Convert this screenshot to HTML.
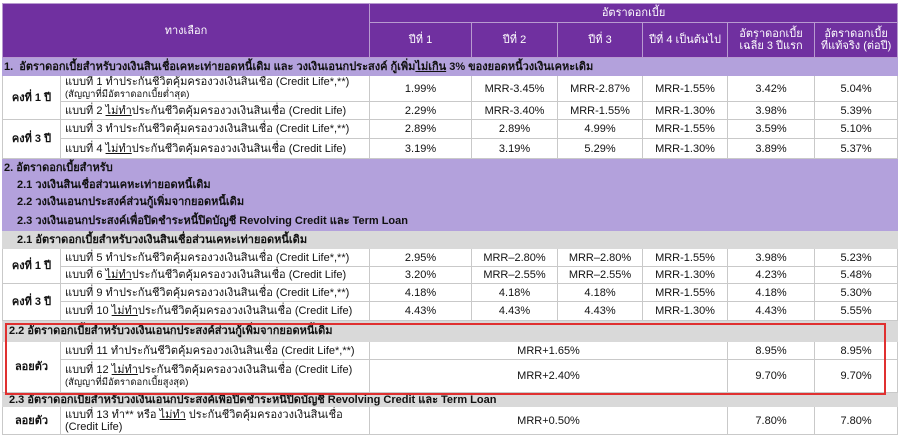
<!DOCTYPE html>
<html><head><meta charset="utf-8"><style>
body{margin:0;width:900px;height:439px;background:#fff;position:relative;overflow:hidden;font-family:Tahoma,"Liberation Sans","DejaVu Sans",sans-serif;font-size:11px;color:#111}
table{position:absolute;left:2px;top:3px;border-collapse:collapse;table-layout:fixed;width:895px}
td{border:1px solid #c9c9c9;padding:0 4px;overflow:hidden;white-space:nowrap;line-height:12px}
.h{background:#7030a0;color:#fff;text-align:center;border-color:#b89ad0}
.p{background:#b3a1dc;font-weight:bold;border-color:#b3a1dc}
.g{background:#d9d9d9;font-weight:bold;border-color:#d9d9d9}
.c{text-align:center}
.k{font-weight:bold;text-align:center}
.s{font-size:9.5px}
u{text-decoration:underline}
#box{position:absolute;left:5px;top:323px;width:881px;height:72px;border:2px solid #e03030;box-sizing:border-box}
</style></head><body>
<table>
<colgroup><col style="width:58px"><col style="width:309px"><col style="width:102px"><col style="width:86px"><col style="width:85px"><col style="width:85px"><col style="width:87px"><col style="width:83px"></colgroup>
<tr style="height:19px"><td class="h" colspan="2" rowspan="2">ทางเลือก</td><td class="h" colspan="6">อัตราดอกเบี้ย</td></tr>
<tr style="height:35px"><td class="h">ปีที่ 1</td><td class="h">ปีที่ 2</td><td class="h">ปีที่ 3</td><td class="h">ปีที่ 4 เป็นต้นไป</td><td class="h">อัตราดอกเบี้ย<br>เฉลี่ย 3 ปีแรก</td><td class="h">อัตราดอกเบี้ย<br>ที่แท้จริง (ต่อปี)</td></tr>
<tr style="height:18px"><td class="p" colspan="8" style="padding-left:1px">1.&nbsp; อัตราดอกเบี้ยสำหรับวงเงินสินเชื่อเคหะเท่ายอดหนี้เดิม และ วงเงินเอนกประสงค์ กู้เพิ่ม<u>ไม่เกิน</u> 3% ของยอดหนี้วงเงินเคหะเดิม</td></tr>
<tr style="height:25px"><td class="k" rowspan="2">คงที่ 1 ปี</td><td>แบบที่ 1 ทำประกันชีวิตคุ้มครองวงเงินสินเชื่อ (Credit Life*,**)<br><span class="s">(สัญญาที่มีอัตราดอกเบี้ยต่ำสุด)</span></td><td class="c">1.99%</td><td class="c">MRR-3.45%</td><td class="c">MRR-2.87%</td><td class="c">MRR-1.55%</td><td class="c">3.42%</td><td class="c">5.04%</td></tr>
<tr style="height:18px"><td>แบบที่ 2 <u>ไม่ทำ</u>ประกันชีวิตคุ้มครองวงเงินสินเชื่อ (Credit Life)</td><td class="c">2.29%</td><td class="c">MRR-3.40%</td><td class="c">MRR-1.55%</td><td class="c">MRR-1.30%</td><td class="c">3.98%</td><td class="c">5.39%</td></tr>
<tr style="height:19px"><td class="k" rowspan="2">คงที่ 3 ปี</td><td>แบบที่ 3 ทำประกันชีวิตคุ้มครองวงเงินสินเชื่อ (Credit Life*,**)</td><td class="c">2.89%</td><td class="c">2.89%</td><td class="c">4.99%</td><td class="c">MRR-1.55%</td><td class="c">3.59%</td><td class="c">5.10%</td></tr>
<tr style="height:20px"><td>แบบที่ 4 <u>ไม่ทำ</u>ประกันชีวิตคุ้มครองวงเงินสินเชื่อ (Credit Life)</td><td class="c">3.19%</td><td class="c">3.19%</td><td class="c">5.29%</td><td class="c">MRR-1.30%</td><td class="c">3.89%</td><td class="c">5.37%</td></tr>
<tr style="height:18px"><td class="p" colspan="8" style="padding-left:1px">2. อัตราดอกเบี้ยสำหรับ</td></tr>
<tr style="height:17px"><td class="p" colspan="8" style="padding-left:14px">2.1 วงเงินสินเชื่อส่วนเคหะเท่ายอดหนี้เดิม</td></tr>
<tr style="height:17px"><td class="p" colspan="8" style="padding-left:14px">2.2 วงเงินเอนกประสงค์ส่วนกู้เพิ่มจากยอดหนี้เดิม</td></tr>
<tr style="height:20px"><td class="p" colspan="8" style="padding-left:14px">2.3 วงเงินเอนกประสงค์เพื่อปิดชำระหนี้ปิดบัญชี Revolving Credit และ Term Loan</td></tr>
<tr style="height:18px"><td class="g" colspan="8" style="padding-left:14px">2.1 อัตราดอกเบี้ยสำหรับวงเงินสินเชื่อส่วนเคหะเท่ายอดหนี้เดิม</td></tr>
<tr style="height:18px"><td class="k" rowspan="2">คงที่ 1 ปี</td><td>แบบที่ 5 ทำประกันชีวิตคุ้มครองวงเงินสินเชื่อ (Credit Life*,**)</td><td class="c">2.95%</td><td class="c">MRR–2.80%</td><td class="c">MRR–2.80%</td><td class="c">MRR-1.55%</td><td class="c">3.98%</td><td class="c">5.23%</td></tr>
<tr style="height:17px"><td>แบบที่ 6 <u>ไม่ทำ</u>ประกันชีวิตคุ้มครองวงเงินสินเชื่อ (Credit Life)</td><td class="c">3.20%</td><td class="c">MRR–2.55%</td><td class="c">MRR–2.55%</td><td class="c">MRR-1.30%</td><td class="c">4.23%</td><td class="c">5.48%</td></tr>
<tr style="height:18px"><td class="k" rowspan="2">คงที่ 3 ปี</td><td>แบบที่ 9 ทำประกันชีวิตคุ้มครองวงเงินสินเชื่อ (Credit Life*,**)</td><td class="c">4.18%</td><td class="c">4.18%</td><td class="c">4.18%</td><td class="c">MRR-1.55%</td><td class="c">4.18%</td><td class="c">5.30%</td></tr>
<tr style="height:19px"><td>แบบที่ 10 <u>ไม่ทำ</u>ประกันชีวิตคุ้มครองวงเงินสินเชื่อ (Credit Life)</td><td class="c">4.43%</td><td class="c">4.43%</td><td class="c">4.43%</td><td class="c">MRR-1.30%</td><td class="c">4.43%</td><td class="c">5.55%</td></tr>
<tr style="height:21px"><td class="g" colspan="8" style="padding-left:6px">2.2 อัตราดอกเบี้ยสำหรับวงเงินเอนกประสงค์ส่วนกู้เพิ่มจากยอดหนี้เดิม</td></tr>
<tr style="height:18px"><td class="k" rowspan="2">ลอยตัว</td><td>แบบที่ 11 ทำประกันชีวิตคุ้มครองวงเงินสินเชื่อ (Credit Life*,**)</td><td class="c" colspan="4">MRR+1.65%</td><td class="c">8.95%</td><td class="c">8.95%</td></tr>
<tr style="height:33px"><td>แบบที่ 12 <u>ไม่ทำ</u>ประกันชีวิตคุ้มครองวงเงินสินเชื่อ (Credit Life)<br><span class="s">(สัญญาที่มีอัตราดอกเบี้ยสูงสุด)</span></td><td class="c" colspan="4">MRR+2.40%</td><td class="c">9.70%</td><td class="c">9.70%</td></tr>
<tr style="height:14px"><td class="g" colspan="8" style="padding-left:6px">2.3 อัตราดอกเบี้ยสำหรับวงเงินเอนกประสงค์เพื่อปิดชำระหนี้ปิดบัญชี Revolving Credit และ Term Loan</td></tr>
<tr style="height:28px"><td class="k">ลอยตัว</td><td>แบบที่ 13 ทำ** หรือ <u>ไม่ทำ</u> ประกันชีวิตคุ้มครองวงเงินสินเชื่อ<br>(Credit Life)</td><td class="c" colspan="4">MRR+0.50%</td><td class="c">7.80%</td><td class="c">7.80%</td></tr>
</table>
<div id="box"></div>
</body></html>
